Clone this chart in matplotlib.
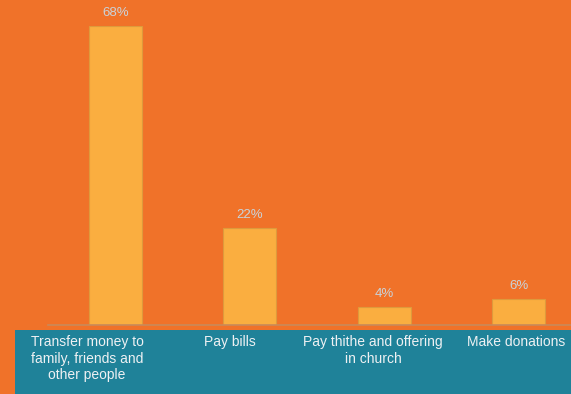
import matplotlib.pyplot as plt
from matplotlib.patches import Rectangle

categories = ["Transfer money to\nfamily, friends and\nother people", "Pay bills",
              "Pay thithe and offering\nin church", "Make donations"]
values = [68, 22, 4, 6]
value_labels = ["68%", "22%", "4%", "6%"]

W, H = 571, 394
fig = plt.figure(figsize=(W / 100, H / 100), dpi=100)
fig.patch.set_facecolor("#F07229")

# teal band behind the category labels
fig.patches.append(Rectangle((15 / W, 0), 1 - 15 / W, 64 / H, transform=fig.transFigure,
                             facecolor="#1F8299", edgecolor="none", zorder=0))

# axes placed so the bars land where they are in the picture
left, right = 48.25, 586
bottom, top = 69, H - 26
ax = fig.add_axes([left / W, bottom / H, (right - left) / W, (top - bottom) / H])
ax.set_facecolor("none")
ax.bar(range(len(values)), values, width=0.394, color="#FAAE40", edgecolor="#DE9A3C", linewidth=0.8)
ax.set_xlim(-0.5, 3.5)
ax.set_ylim(0, 68)
for s in ["top", "right", "left"]:
    ax.spines[s].set_visible(False)
ax.spines["bottom"].set_color("#C98A5A")
ax.spines["bottom"].set_linewidth(1.2)
ax.set_xticks([])
ax.set_yticks([])

for i, v in enumerate(values):
    ax.annotate(value_labels[i], (i, v), xytext=(0, 5), textcoords="offset points",
                ha="center", va="bottom", fontsize=9.5, color="#C9D3DA",
                family="Liberation Sans", annotation_clip=False)

for i, c in enumerate(categories):
    fig.text((87 + 143 * i) / W, (H - 335) / H, c, ha="center", va="top",
             fontsize=10, color="#EEF1F3", family="Liberation Sans", linespacing=1.25)

fig.savefig("out.png", dpi=100, facecolor=fig.get_facecolor())
